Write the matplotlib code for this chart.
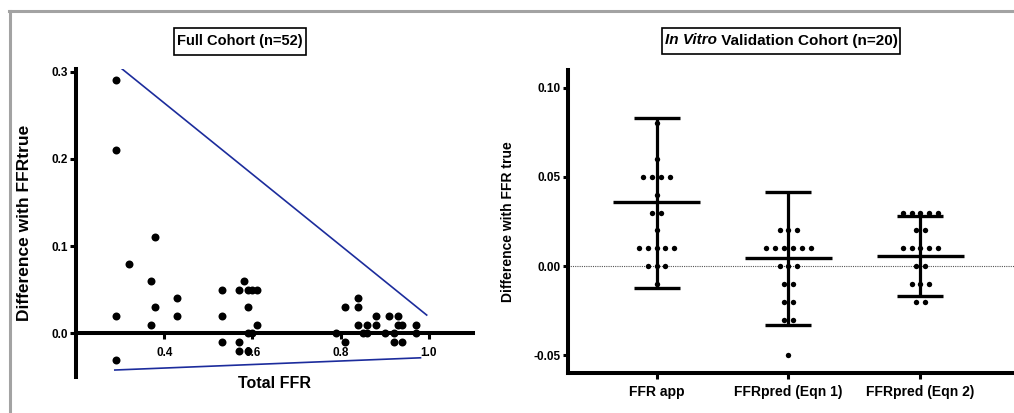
import matplotlib
matplotlib.use('Agg')
import matplotlib.pyplot as plt
import numpy as np
from matplotlib.lines import Line2D
from matplotlib.patches import Rectangle

plt.rcParams['font.family'] = ['Liberation Sans', 'DejaVu Sans']

# ---------------- Data: Full cohort ----------------
full_x = [0.29, 0.29, 0.29, 0.29, 0.32, 0.37, 0.38, 0.38, 0.37, 0.43, 0.43,
          0.53, 0.53, 0.53, 0.57, 0.58, 0.59, 0.60, 0.61, 0.59, 0.61, 0.59,
          0.60, 0.57, 0.57, 0.59,
          0.79, 0.81, 0.81, 0.84, 0.84, 0.84, 0.85, 0.86, 0.86, 0.88, 0.88,
          0.90, 0.91, 0.93, 0.92, 0.92, 0.93, 0.94, 0.94, 0.97, 0.97]
full_y = [0.29, 0.21, 0.02, -0.03, 0.08, 0.06, 0.11, 0.03, 0.01, 0.04, 0.02,
          0.05, 0.02, -0.01, 0.05, 0.06, 0.05, 0.05, 0.05, 0.03, 0.01, 0.0,
          0.0, -0.01, -0.02, -0.02,
          0.0, 0.03, -0.01, 0.04, 0.03, 0.01, 0.0, 0.01, 0.0, 0.02, 0.01,
          0.0, 0.02, 0.02, 0.0, -0.01, 0.01, 0.01, -0.01, 0.01, 0.0]
upper_line_x = [0.285, 0.995]
upper_line_y = [0.311, 0.021]
lower_line_x = [0.288, 0.981]
lower_line_y = [-0.042, -0.028]
left_xticks = [0.4, 0.6, 0.8, 1.0]
left_xticklabels = ['0.4', '0.6', '0.8', '1.0']
left_yticks = [0.0, 0.1, 0.2, 0.3]
left_yticklabels = ['0.0', '0.1', '0.2', '0.3']

# ---------------- Data: In vitro validation cohort ----------------
categories = ['FFR app', 'FFRpred (Eqn 1)', 'FFRpred (Eqn 2)']
ffr_app = [0.08, 0.06, 0.05, 0.05, 0.05, 0.05, 0.04, 0.03, 0.03, 0.02,
           0.01, 0.01, 0.01, 0.01, 0.01, 0.0, 0.0, 0.0, -0.01]
ffr_eqn1 = [0.02, 0.02, 0.02, 0.01, 0.01, 0.01, 0.01, 0.01, 0.01,
            0.0, 0.0, 0.0, -0.01, -0.01, -0.02, -0.02, -0.03, -0.03, -0.05]
ffr_eqn2 = [0.03, 0.03, 0.03, 0.03, 0.03, 0.02, 0.02, 0.01, 0.01, 0.01,
            0.01, 0.01, 0.0, 0.0, -0.01, -0.01, -0.01, -0.02, -0.02]
group_means = [0.0357, 0.0045, 0.0054]
err_top = [0.083, 0.0415, 0.0283]
err_bottom = [-0.0123, -0.0328, -0.0169]
right_yticks = [-0.05, 0.0, 0.05, 0.10]
right_yticklabels = ['-0.05', '0.00', '0.05', '0.10']

W, H = 1014, 413
fig = plt.figure(figsize=(W / 100, H / 100), dpi=100)

def fx(px):
    return px / W

def fy(py):
    return 1 - py / H

# grey frame
fig.add_artist(Line2D([fx(9), 1.0], [fy(11), fy(11)], color='#a3a3a3', lw=2.2))
fig.add_artist(Line2D([fx(9.5), fx(9.5)], [fy(11), 0.0], color='#a3a3a3', lw=2.2))

# ---------------- Left panel ----------------
axL = fig.add_axes([fx(76), fy(377), fx(473) - fx(76), fy(69) - fy(377)])
axL.set_xlim(0.2, 1.1)
axL.set_ylim(-0.05, 0.303)
for s in ['top', 'right']:
    axL.spines[s].set_visible(False)
axL.spines['bottom'].set_position(('data', 0))
axL.spines['left'].set_linewidth(2.9)
axL.spines['bottom'].set_linewidth(2.9)
axL.scatter(full_x, full_y, s=33, color='black', zorder=3, linewidths=0)
axL.plot(upper_line_x, upper_line_y, color='#1c2c9c', lw=1.2, zorder=2)
axL.plot(lower_line_x, lower_line_y, color='#1c2c9c', lw=1.2, zorder=2)
axL.set_xticks(left_xticks)
axL.set_xticklabels(left_xticklabels, fontsize=8.5, fontweight='bold')
axL.set_yticks(left_yticks)
axL.set_yticklabels(left_yticklabels, fontsize=8.5, fontweight='bold')
axL.tick_params(axis='x', direction='out', length=4.5, width=2.2, pad=5)
axL.tick_params(axis='y', direction='out', length=4.0, width=2.2, pad=1.5)
axL.set_ylabel('Difference with FFRtrue', fontsize=12.5, fontweight='bold')
axL.yaxis.set_label_coords(-0.111, 0.5)
fig.text(fx(275), fy(383), 'Total FFR', fontsize=11.5, fontweight='bold',
         ha='center', va='center')

# ---------------- Right panel ----------------
axR = fig.add_axes([fx(568), fy(373), 1.0 - fx(568), fy(70) - fy(373)])
axR.set_xlim(-0.671, 2.71)
axR.set_ylim(-0.06, 0.11)
for s in ['top', 'right']:
    axR.spines[s].set_visible(False)
axR.spines['left'].set_linewidth(2.9)
axR.spines['bottom'].set_linewidth(2.9)
axR.axhline(0, color='#555555', lw=0.8, ls=(0, (1, 1)), zorder=1)

groups = [ffr_app, ffr_eqn1, ffr_eqn2]
spacing = 0.067
for i, vals in enumerate(groups):
    vals = np.asarray(vals)
    xs, ys = [], []
    for v in np.unique(vals):
        n = int(np.sum(np.isclose(vals, v)))
        offs = (np.arange(n) - (n - 1) / 2) * spacing
        xs.extend(i + offs)
        ys.extend([v] * n)
    axR.scatter(xs, ys, s=15, color='black', zorder=3, linewidths=0)
    axR.errorbar([i], [group_means[i]],
                 yerr=[[group_means[i] - err_bottom[i]], [err_top[i] - group_means[i]]],
                 fmt='none', ecolor='black', elinewidth=2.3, capsize=16.5,
                 capthick=2.4, zorder=4)
    axR.hlines(group_means[i], i - 0.33, i + 0.33, color='black', lw=2.4, zorder=4)

axR.set_xticks(range(len(categories)))
axR.set_xticklabels(categories, fontsize=10, fontweight='bold')
axR.set_yticks(right_yticks)
axR.set_yticklabels(right_yticklabels, fontsize=8.5, fontweight='bold')
axR.tick_params(axis='x', direction='out', length=4.5, width=2.2, pad=4)
axR.tick_params(axis='y', direction='out', length=3.5, width=2.2, pad=1.5)
axR.set_ylabel('Difference with FFR true', fontsize=10, fontweight='bold')
axR.yaxis.set_label_coords(-0.119, 0.5)

# titles in boxes
tL = fig.text(fx(240), fy(41.5), 'Full Cohort (n=52)', fontsize=10.5,
              fontweight='bold', ha='center', va='center')
t1 = fig.text(0, fy(40.5), 'In Vitro', fontsize=11, fontweight='bold',
              fontstyle='italic', ha='left', va='center')
t2 = fig.text(0, fy(40.5), ' Validation Cohort (n=20)', fontsize=11,
              fontweight='bold', ha='left', va='center')
fig.canvas.draw()
r = fig.canvas.get_renderer()
b1 = t1.get_window_extent(r)
b2 = t2.get_window_extent(r)
bL = tL.get_window_extent(r)
total = b1.width + b2.width
left_px = 781 - total / 2
t1.set_x(left_px / W)
t2.set_x((left_px + b1.width) / W)
fig.add_artist(Rectangle((fx(left_px - 3), fy(53.5)), (total + 6) / W, 25.5 / H,
                         transform=fig.transFigure, fill=False, ec='black', lw=1.2))
wL = bL.width
fig.add_artist(Rectangle((fx(240 - wL / 2 - 3), fy(55)), (wL + 6) / W, 27 / H,
                         transform=fig.transFigure, fill=False, ec='black', lw=1.2))

fig.savefig('out.png', dpi=100)
